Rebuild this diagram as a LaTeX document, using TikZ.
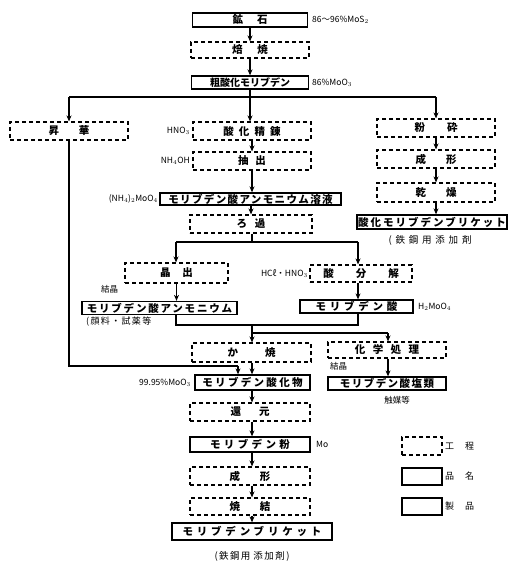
\documentclass[tikz,border=0pt]{standalone}
\usepackage{fontspec}
\setmainfont{Noto Sans CJK JP}
\usetikzlibrary{arrows.meta}
\newcommand{\gapx}[1]{\hspace{#1pt}}
\begin{document}
\begin{tikzpicture}[x=1pt,y=-1pt,
  box/.style={inner sep=0pt, font=\fontsize{10.5}{10.5}\selectfont\bfseries, anchor=center},
  ls/.style={font=\fontsize{10.5}{10.5}\selectfont\bfseries\addfontfeature{LetterSpace=#1}},
  proc/.style={box, draw, line width=1.1pt, dash pattern=on 4pt off 3pt},
  prod/.style={box, draw, line width=1.3pt},
  lab/.style={inner sep=0pt, font=\fontsize{8.5}{8.5}\selectfont},
  arr/.style={line width=1.1pt, -{Stealth[length=6pt,width=5pt]}},
  ln/.style={line width=1.1pt}]
\useasboundingbox (0,0) rectangle (511,569);
% main column
\node[prod, minimum width=115, minimum height=14] (ore) at (250,20) {鉱\gapx{14}石};
\node[proc, minimum width=118, minimum height=16] (roast) at (250,50) {焙\gapx{15}焼};
\node[prod, minimum width=117, minimum height=13, font=\fontsize{10}{10}\selectfont\bfseries] (crude) at (250,82.5) {粗酸化モリブデン};
\node[proc, minimum width=118, minimum height=18] (subl) at (69,131) {昇\gapx{20}華};
\node[proc, minimum width=118, minimum height=18, ls=48] (oxref) at (252,131) {酸化精錬};
\node[proc, minimum width=118, minimum height=18] (extr) at (252,161) {抽\gapx{7}出};
\node[prod, minimum width=181, minimum height=12, ls=13] (amsol) at (250.5,199) {モリブデン酸アンモニウム溶液};
\node[proc, minimum width=122, minimum height=18] (filt) at (251,224) {ろ\gapx{8}過};
\node[proc, minimum width=103, minimum height=20] (cryst) at (176.5,273) {晶\gapx{12}出};
\node[prod, minimum width=155, minimum height=13, ls=17] (amm) at (159.5,308) {モリブデン酸アンモニウム};
\node[proc, minimum width=102, minimum height=17] (acid) at (361,273.5) {酸\gapx{22}分\gapx{22}解};
\node[prod, minimum width=113, minimum height=13, ls=36] (macid) at (356.5,306.5) {モリブデン酸};
\node[proc, minimum width=119, minimum height=19] (calc) at (251.5,352.5) {か\gapx{27}焼};
\node[proc, minimum width=118, minimum height=16, ls=71] (chem) at (387,350) {化学処理};
\node[prod, minimum width=118, minimum height=13, ls=14] (salts) at (387,383.5) {モリブデン酸塩類};
\node[prod, minimum width=115, minimum height=15, ls=22] (moox) at (252.5,382.5) {モリブデン酸化物};
\node[proc, minimum width=120, minimum height=18] (red) at (250,412) {還\gapx{18}元};
\node[prod, minimum width=120, minimum height=15, ls=32] (pow) at (250,444.5) {モリブデン粉};
\node[proc, minimum width=120, minimum height=18] (form) at (250,476) {成\gapx{20}形};
\node[proc, minimum width=120, minimum height=17] (sint) at (250,506.5) {焼\gapx{20}結};
\node[prod, minimum width=160, minimum height=17, ls=36] (briq) at (252,531.5) {モリブデンブリケット};
% right column
\node[proc, minimum width=118, minimum height=18] (crush) at (436,128) {粉\gapx{22}砕};
\node[proc, minimum width=118, minimum height=18] (form2) at (436,159) {成\gapx{20}形};
\node[proc, minimum width=118, minimum height=19] (dry) at (436,192.5) {乾\gapx{20}燥};
\node[prod, minimum width=150, minimum height=14, ls=19] (oxbriq) at (432,222) {酸化モリブデンブリケット};
% labels
\node[lab, anchor=west] (l1) at (312,20) {86〜96\%MoS$_2$};
\node[lab, anchor=west] (l2) at (312,82.5) {86\%MoO$_3$};
\node[lab, anchor=east] (l3) at (190,131) {HNO$_3$};
\node[lab, anchor=east] (l4) at (190,161) {NH$_4$OH};
\node[lab, anchor=east] (l5) at (158,199) {(NH$_4$)$_2$MoO$_4$};
\node[lab, anchor=west] (l6) at (101,289) {結晶};
\node[lab, anchor=west, font=\fontsize{9}{9}\selectfont\addfontfeature{LetterSpace=15}] (l7) at (86,322) {(顔料・試薬等};
\node[lab, anchor=east] (l8) at (308,273.5) {HCℓ・HNO$_3$};
\node[lab, anchor=west] (l9) at (418,307) {H$_2$MoO$_4$};
\node[lab, anchor=west] (l10) at (330,366) {結晶};
\node[lab, anchor=center] (l11) at (397,400) {触媒等};
\node[lab, anchor=east] (l12) at (191,383) {99.95\%MoO$_3$};
\node[lab, anchor=west] (l13) at (316,444.5) {Mo};
\node[lab, anchor=center, font=\fontsize{9.5}{9.5}\selectfont\addfontfeature{LetterSpace=15}] (l14) at (252,556) {(鉄鋼用\gapx{3}添加剤)};
\node[lab, anchor=center, font=\fontsize{9.5}{9.5}\selectfont\addfontfeature{LetterSpace=40}] (l15) at (430,240) {(鉄鋼用添加剤};
% legend
\node[proc, minimum width=40, minimum height=18] (lg1) at (422,446) {};
\node[prod, minimum width=40, minimum height=17] (lg2) at (422,476.5) {};
\node[prod, line width=1.6pt, minimum width=40, minimum height=17] (lg3) at (422,506.5) {};
\node[lab, anchor=west, font=\fontsize{9}{9}\selectfont] (lt1) at (445,446) {工\gapx{11}程};
\node[lab, anchor=west, font=\fontsize{9}{9}\selectfont] (lt2) at (445,476.5) {品\gapx{11}名};
\node[lab, anchor=west, font=\fontsize{9}{9}\selectfont] (lt3) at (445,506.5) {製\gapx{11}品};
% junction coordinates
\coordinate (j1) at (250,97);
\coordinate (j1l) at (69,97);
\coordinate (j1r) at (436,97);
\coordinate (j2) at (252,242);
\coordinate (j2l) at (176,242);
\coordinate (j2r) at (358,242);
\coordinate (j3l) at (176,325);
\coordinate (j3r) at (358,325);
\coordinate (j3) at (252,325);
\coordinate (j4) at (252,333);
\coordinate (j4r) at (388,333);
\coordinate (j5) at (69,366);
\coordinate (j5r) at (238,366);
% connectors
\draw[arr] (ore) -- (roast);
\draw[arr] (roast) -- (crude);
\draw[ln] (crude.south) -- (j1);
\draw[ln] (j1l) -- (j1r);
\draw[arr] (j1l) -- (subl.north);
\draw[arr] (j1) -- (j1 |- oxref.north);
\draw[arr] (j1r) -- (crush.north);
\draw[arr] (oxref) -- (extr);
\draw[arr] (extr.south) -- (extr.south |- amsol.north);
\draw[arr] (amsol.south -| filt) -- (filt.north);
\draw[ln] (filt.south -| j2) -- (j2);
\draw[ln] (j2l) -- (j2r);
\draw[arr] (j2l) -- (j2l |- cryst.north);
\draw[arr] (j2r) -- (j2r |- acid.north);
\draw[arr] (cryst.south) -- (cryst.south |- amm.north);
\draw[arr] (acid.south -| j2r) -- (j2r |- macid.north);
\draw[ln] (amm.south -| j3l) -- (j3l) -- (j3r) -- (macid.south -| j3r);
\draw[arr] (j3) -- (j3 |- calc.north);
\draw[ln] (j4) -- (j4r);
\draw[arr] (j4r) -- (j4r |- chem.north);
\draw[arr] (chem.south -| j4r) -- (j4r |- salts.north);
\draw[arr] (calc.south -| j3) -- (j3 |- moox.north);
\draw[ln] (subl.south) -- (j5) -- (j5r);
\draw[arr] (j5r) -- (j5r |- moox.north);
\draw[arr] (moox.south -| j3) -- (j3 |- red.north);
\draw[arr] (red.south -| j3) -- (j3 |- pow.north);
\draw[arr] (pow.south -| j3) -- (j3 |- form.north);
\draw[arr] (form.south -| j3) -- (j3 |- sint.north);
\draw[arr] (sint.south -| j3) -- (j3 |- briq.north);
\draw[arr] (crush) -- (form2);
\draw[arr] (form2) -- (dry);
\draw[arr] (dry.south) -- (dry.south |- oxbriq.north);
\end{tikzpicture}
\end{document}
